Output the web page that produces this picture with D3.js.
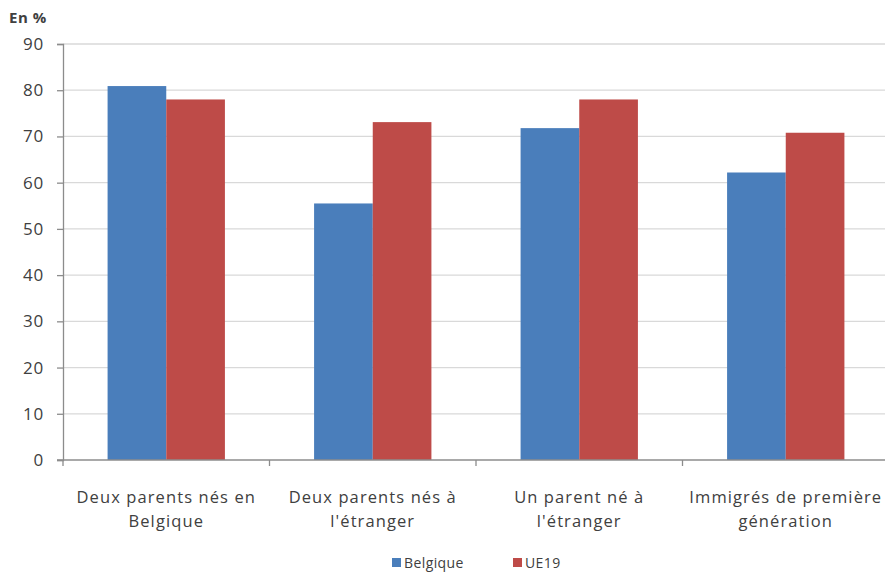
<!DOCTYPE html>
<html>
<head>
<meta charset="utf-8">
<script src="https://cdn.jsdelivr.net/npm/d3@7"></script>
<style>
  html, body { margin: 0; padding: 0; background: #fff; }
  svg text { font-family: "Open Sans", Lato, "Liberation Sans", sans-serif; fill: #404040; }
</style>
</head>
<body>
<svg id="chart" width="885" height="574"></svg>
<script>
// Share of pupils (%) by migration background: Belgium vs EU19 average
const categories = [
  ["Deux parents nés en", "Belgique"],
  ["Deux parents nés à", "l'étranger"],
  ["Un parent né à", "l'étranger"],
  ["Immigrés de première", "génération"]
];
const seriesNames = ["Belgique", "UE19"];
const belgique = [80.9, 55.5, 71.8, 62.2];
const ue19 = [78.0, 73.1, 78.0, 70.8];
const yTicks = [0, 10, 20, 30, 40, 50, 60, 70, 80, 90];
const colors = ["#4a7ebb", "#be4b48"];

const svg = d3.select("#chart");
const plotLeft = 63, plotRight = 889, plotTop = 44, plotBottom = 460;

const x = d3.scaleBand().domain(d3.range(categories.length)).range([plotLeft, plotRight]).paddingInner(0).paddingOuter(0);
const inner = d3.scaleBand().domain(d3.range(seriesNames.length)).range([0, x.bandwidth()]).paddingInner(0).paddingOuter(0.76);
const y = d3.scaleLinear().domain([0, 90]).range([plotBottom, plotTop]);

// horizontal gridlines
svg.append("g").selectAll("line").data(yTicks.filter(d => d > 0)).join("line")
  .attr("x1", plotLeft).attr("x2", plotRight)
  .attr("y1", d => y(d)).attr("y2", d => y(d))
  .attr("stroke", "#d9d9d9").attr("stroke-width", 1.3);

// bars
const series = [belgique, ue19];
series.forEach((vals, s) => {
  svg.append("g").selectAll("rect").data(vals).join("rect")
    .attr("x", (d, i) => x(i) + inner(s))
    .attr("width", inner.bandwidth())
    .attr("y", d => y(d))
    .attr("height", d => y(0) - y(d))
    .attr("fill", colors[s]);
});

// y axis
const yAxis = d3.axisLeft(y).tickValues(yTicks).tickSize(6).tickPadding(13);
const gy = svg.append("g").attr("transform", `translate(${plotLeft},0)`).call(yAxis);
gy.select(".domain").attr("stroke", "#8c8c8c").attr("stroke-width", 1.3);
gy.selectAll(".tick line").attr("stroke", "#8c8c8c").attr("stroke-width", 1.3);
gy.selectAll(".tick text").attr("font-size", 17).attr("letter-spacing", 0.8)
  .attr("font-family", "'Open Sans', sans-serif").style("fill", "#404040");

// x axis with ticks at category boundaries
svg.append("line").attr("x1", plotLeft - 6).attr("x2", plotRight).attr("y1", plotBottom).attr("y2", plotBottom)
  .attr("stroke", "#8c8c8c").attr("stroke-width", 1.3);
const bounds = d3.range(categories.length + 1).map(i => plotLeft + i * x.bandwidth());
svg.append("g").selectAll("line").data(bounds).join("line")
  .attr("x1", d => d).attr("x2", d => d).attr("y1", plotBottom).attr("y2", plotBottom + 6)
  .attr("stroke", "#8c8c8c").attr("stroke-width", 1.3);

// category labels
const lbl = svg.append("g").selectAll("text").data(categories).join("text")
  .attr("text-anchor", "middle").attr("font-size", 16.5).attr("letter-spacing", 1.1);
lbl.each(function(d, i) {
  const t = d3.select(this);
  d.forEach((line, k) => {
    t.append("tspan").attr("x", x(i) + x.bandwidth() / 2).attr("y", 503 + k * 24).text(line);
  });
});

// unit label
svg.append("text").attr("x", 9).attr("y", 23).attr("font-size", 15).attr("letter-spacing", 0.5)
  .attr("font-weight", "bold").text("En %");

// legend
const legendX = [392, 513];
const lg = svg.append("g").selectAll("g").data(seriesNames).join("g")
  .attr("transform", (d, i) => `translate(${legendX[i]},558)`);
lg.append("rect").attr("width", 9).attr("height", 9).attr("fill", (d, i) => colors[i]);
lg.append("text").attr("x", 12).attr("y", 10).attr("font-size", 14).attr("letter-spacing", 0.4).text(d => d);
</script>
</body>
</html>
